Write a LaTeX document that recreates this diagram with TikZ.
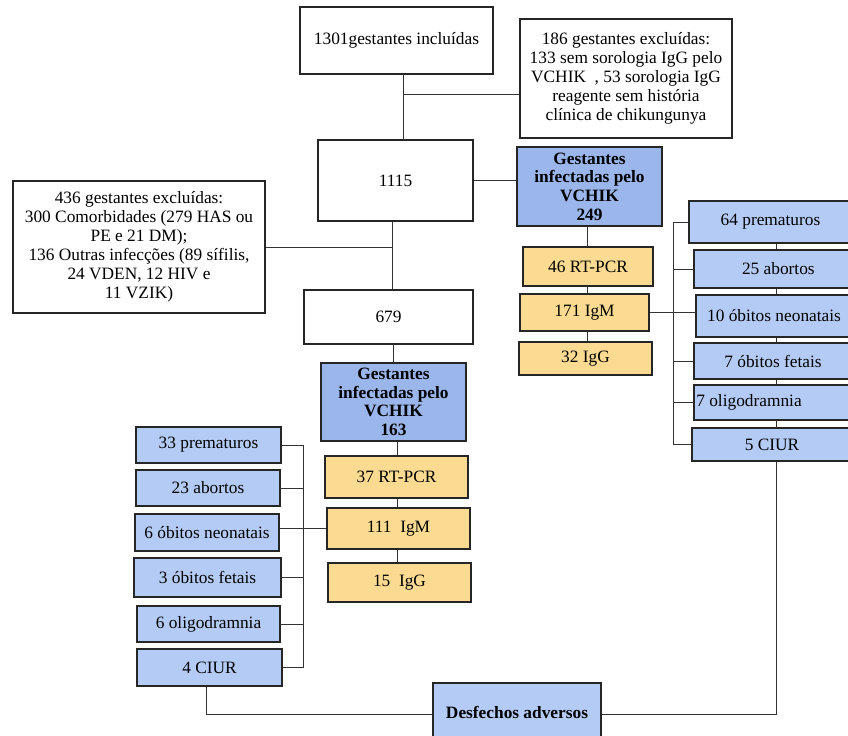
\documentclass[tikz,border=0pt]{standalone}
\usepackage{fontspec}
\setmainfont{Liberation Serif}
\definecolor{gblue}{HTML}{9AB6EA}
\definecolor{oblue}{HTML}{B4CCF5}
\definecolor{yel}{HTML}{FADB91}
\tikzset{
  bx/.style={draw=black!85, line width=0.9pt, inner sep=0pt, align=center,
    font=\fontsize{13}{14.3}\selectfont},
  wbox/.style={bx, fill=white},
  gbox/.style={bx, fill=gblue, font=\fontsize{13}{14}\selectfont\bfseries},
  obox/.style={bx, fill=oblue},
  ybox/.style={bx, fill=yel},
  conn/.style={draw=black!80, line width=0.75pt},
}
\newcommand\mybox[7]{\node[#6, minimum width={(#4-#2)*0.75pt}, minimum height={(#5-#3)*0.75pt}] (#1) at ({(#2+#4)/2},{(#3+#5)/2}) {#7};}
\begin{document}
\begin{tikzpicture}[x=0.75pt,y=-0.75pt]
\useasboundingbox (0,0) rectangle (848,735);
\clip (0,0) rectangle (848,735);
\fill[white] (0,0) rectangle (848,735);

% nodes
\mybox{n1301}{300}{7}{493}{74}{wbox}{\raisebox{-2pt}{1301gestantes incluídas}}
\mybox{ex1}{520}{19}{732}{138}{wbox}{186 gestantes excluídas:\\133 sem sorologia IgG pelo\\VCHIK\ \ , 53 sorologia IgG\\reagente sem história\\clínica de chikungunya}
\mybox{n1115}{318}{140}{473}{221}{wbox}{1115}
\mybox{g249}{517}{147}{662}{226}{gbox}{Gestantes\\infectadas pelo\\VCHIK\\249}
\mybox{ex2}{13}{181}{265}{313}{wbox}{436 gestantes excluídas:\\300 Comorbidades (279 HAS ou\\PE e 21 DM);\\136 Outras infecções (89 sífilis,\\24 VDEN, 12 HIV e\\11 VZIK)}
\mybox{n679}{304}{290}{473}{344}{wbox}{679}
\mybox{g163}{321}{363}{466}{441}{gbox}{Gestantes\\infectadas pelo\\VCHIK\\163}

\mybox{r46}{523}{247}{653}{286}{ybox}{46 RT-PCR}
\mybox{m171}{520}{294}{649}{331}{ybox}{171 IgM}
\mybox{g32}{519}{342}{652}{375}{ybox}{32 IgG}

\mybox{o64}{689}{201}{852}{243}{obox}{64 prematuros}
\mybox{o25}{694}{250}{852}{288}{obox}{\hspace*{8pt}25 abortos}
\mybox{o10}{696}{295}{852}{337}{obox}{10 óbitos neonatais}
\mybox{o7f}{694}{343}{852}{379}{obox}{\raisebox{-4pt}{7 óbitos fetais}}
\mybox{o7o}{694}{385}{852}{420}{obox}{7 oligodramnia\hspace*{36pt}}
\mybox{o5}{692}{428}{852}{461}{obox}{5 CIUR}

\mybox{r37}{325}{456}{468}{498}{ybox}{37 RT-PCR}
\mybox{m111}{327}{508}{470}{549}{ybox}{111\ \ IgM}
\mybox{g15}{328}{563}{471}{602}{ybox}{15\ \ IgG}

\mybox{l33}{136}{427}{281}{463}{obox}{33 prematuros}
\mybox{l23}{136}{470}{280}{506}{obox}{23 abortos}
\mybox{l6n}{135}{514}{279}{551}{obox}{6 óbitos neonatais}
\mybox{l3f}{134}{558}{281}{597}{obox}{3 óbitos fetais}
\mybox{l6o}{137}{606}{280}{642}{obox}{6 oligodramnia}
\mybox{l4}{137}{649}{282}{686}{obox}{4 CIUR}

\mybox{des}{433}{683}{601}{745}{obox, font=\fontsize{13}{14}\selectfont\bfseries}{\raisebox{3pt}{Desfechos adversos}}

% junction coordinates
\coordinate (j1) at (403,94);
\coordinate (j2) at (392,247);
\coordinate (j3) at (587,0);
\coordinate (j5) at (397,0);
\coordinate (bR) at (673,0);
\coordinate (bL) at (303,0);
\coordinate (j4) at (776,714);
\coordinate (j6) at (206,714);

% connectors
\begin{scope}[conn]
\draw (n1301.south -| j1) -- (n1115.north -| j1);
\draw (j1) -- (ex1.west |- j1);
\draw (n1115.east) -- (g249.west |- n1115.east);
\draw (n1115.south -| j2) -- (n679.north -| j2);
\draw (ex2.east |- j2) -- (j2);
\draw (g163.north) -- (n679.south -| g163.north);

\draw (g249.south -| j3) -- (r46.north -| j3);
\draw (r46.south -| j3) -- (m171.north -| j3);
\draw (m171.south -| j3) -- (g32.north -| j3);

\draw (bR |- o64.west) -- (bR |- o5.west);
\draw (bR |- o64.west) -- (o64.west);
\draw (bR |- o25.west) -- (o25.west);
\draw (m171.east) -- (o10.west |- m171.east);
\draw (bR |- o7f.west) -- (o7f.west);
\draw (bR |- o7o.west) -- (o7o.west);
\draw (bR |- o5.west) -- (o5.west);

\draw (o64.south -| j4) -- (o25.north -| j4);
\draw (o25.south -| j4) -- (o10.north -| j4);
\draw (o10.south -| j4) -- (o7f.north -| j4);
\draw (o7f.south -| j4) -- (o7o.north -| j4);
\draw (o7o.south -| j4) -- (o5.north -| j4);
\draw (o5.south -| j4) -- (j4) -- (des.east |- j4);

\draw (g163.south -| j5) -- (r37.north -| j5);
\draw (r37.south -| j5) -- (m111.north -| j5);
\draw (m111.south -| j5) -- (g15.north -| j5);

\draw (bL |- l33.east) -- (bL |- l4.east);
\draw (l33.east) -- (bL |- l33.east);
\draw (l23.east) -- (bL |- l23.east);
\draw (m111.west) -- (l6n.east |- m111.west);
\draw (l3f.east) -- (bL |- l3f.east);
\draw (l6o.east) -- (bL |- l6o.east);
\draw (l4.east) -- (bL |- l4.east);

\draw (l4.south -| j6) -- (j6) -- (des.west |- j6);
\end{scope}
\end{tikzpicture}
\end{document}
